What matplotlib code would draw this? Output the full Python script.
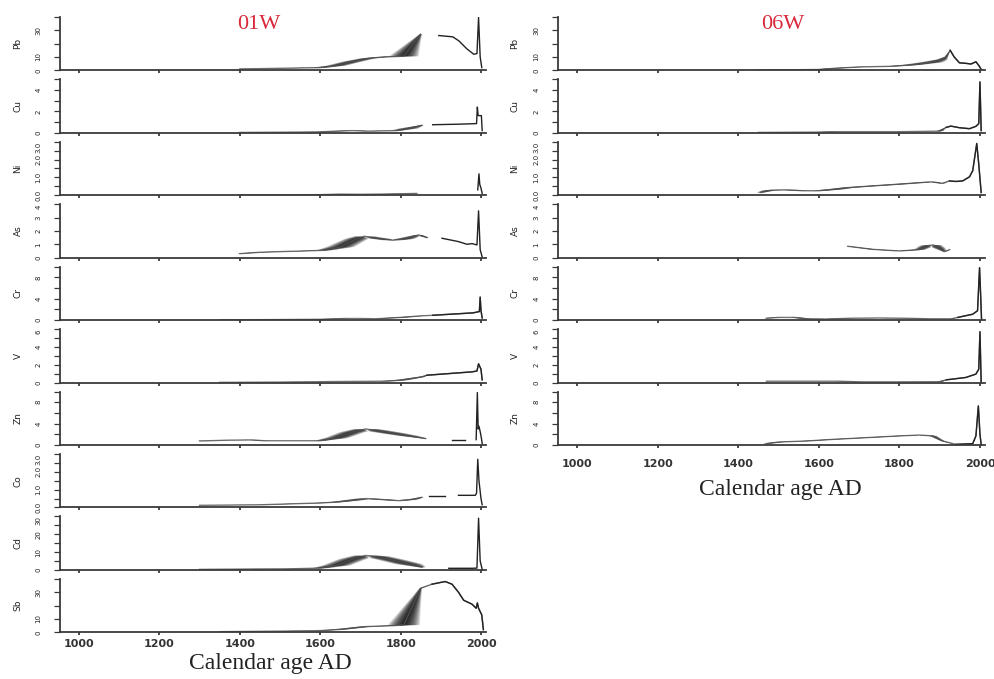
import numpy as np
import matplotlib
matplotlib.use("Agg")
import matplotlib.pyplot as plt

nan = np.nan

# ---- core 01W : calendar year, concentration, age spread (years) ----
pb01_yr = [1400, 1500, 1600, 1640, 1680, 1720, 1760, 1808, 1850, 1870, 1895, 1930, 1945, 1965, 1982, 1990, 1994, 1998, 2002]
pb01_val = [1.0, 1.5, 2.0, 3.5, 6.5, 9.0, 10.0, 10.5, 27.0, nan, 26.0, 25.0, 22.0, 16.0, 12.0, 12.5, 39.5, 10.0, 2.0]
pb01_err = [15, 15, 20, 25, 25, 20, 15, 37, 3, 0, 0, 0, 0, 0, 0, 0, 0, 0, 0]

cu01_yr = [1400, 1500, 1600, 1640, 1680, 1720, 1790, 1820, 1853, 1866, 1880, 1945, 1986, 1989, 1991, 1993, 2001, 2003]
cu01_val = [0.03, 0.05, 0.08, 0.15, 0.2, 0.15, 0.2, 0.4, 0.7, nan, 0.75, 0.8, 0.85, 0.85, 2.4, 1.6, 1.6, 0.2]
cu01_err = [10, 10, 15, 20, 20, 15, 15, 25, 5, 0, 0, 0, 0, 0, 0, 0, 0, 0]

ni01_yr = [1400, 1600, 1650, 1700, 1780, 1840, 1900, 1992, 1995, 1997, 2000, 2003]
ni01_val = [0.02, 0.03, 0.06, 0.05, 0.07, 0.1, nan, 0.3, 1.2, 0.6, 0.4, 0.1]
ni01_err = [10, 10, 20, 20, 20, 15, 0, 0, 0, 0, 0, 0]

as01_yr = [1400, 1450, 1500, 1560, 1610, 1650, 1690, 1710, 1740, 1780, 1810, 1845, 1866, 1885, 1903, 1944, 1965, 1978, 1990, 1994, 1998, 2003]
as01_val = [0.3, 0.4, 0.45, 0.5, 0.55, 0.8, 1.4, 1.6, 1.45, 1.3, 1.4, 1.7, 1.5, nan, 1.45, 1.2, 1.0, 1.05, 0.95, 3.5, 0.6, 0.05]
as01_err = [10, 15, 15, 15, 20, 35, 30, 25, 25, 25, 25, 10, 5, 0, 0, 0, 0, 0, 0, 0, 0, 0]

cr01_yr = [1350, 1500, 1600, 1660, 1700, 1740, 1800, 1853, 1880, 1980, 1990, 1996, 1998, 2000, 2003]
cr01_val = [0.05, 0.1, 0.15, 0.3, 0.3, 0.25, 0.5, 0.8, 0.9, 1.35, 1.5, 1.6, 4.3, 1.8, 0.4]
cr01_err = [10, 10, 15, 20, 20, 15, 20, 5, 0, 0, 0, 0, 0, 0, 0]

v01_yr = [1350, 1500, 1650, 1760, 1800, 1853, 1865, 1978, 1990, 1994, 2000, 2003]
v01_val = [0.02, 0.05, 0.12, 0.15, 0.26, 0.64, 0.82, 1.2, 1.3, 2.1, 1.5, 0.3]
v01_err = [10, 10, 15, 20, 20, 10, 0, 0, 0, 0, 0, 0]

zn01_yr = [1300, 1370, 1430, 1460, 1600, 1640, 1680, 1713, 1740, 1780, 1820, 1862, 1900, 1928, 1961, 1975, 1988, 1991, 1993, 1995, 1998, 2001, 2003]
zn01_val = [0.75, 0.9, 0.95, 0.8, 0.8, 1.3, 2.4, 3.0, 2.7, 2.2, 1.7, 1.2, nan, 0.9, 0.9, nan, 1.0, 9.8, 3.0, 3.5, 2.5, 1.3, 0.3]
zn01_err = [10, 15, 15, 15, 15, 30, 32, 30, 32, 32, 25, 5, 0, 0, 0, 0, 0, 0, 0, 0, 0, 0, 0]

co01_yr = [1300, 1450, 1600, 1640, 1680, 1713, 1750, 1796, 1830, 1853, 1862, 1870, 1911, 1928, 1944, 1986, 1989, 1992, 1995, 2000, 2003]
co01_val = [0.12, 0.15, 0.25, 0.3, 0.4, 0.5, 0.45, 0.38, 0.45, 0.57, nan, 0.63, 0.63, nan, 0.68, 0.68, 0.8, 2.7, 1.5, 0.5, 0.15]
co01_err = [10, 15, 15, 20, 25, 25, 20, 20, 15, 5, 0, 0, 0, 0, 0, 0, 0, 0, 0, 0, 0]

cd01_yr = [1300, 1430, 1520, 1600, 1640, 1680, 1713, 1740, 1780, 1820, 1853, 1890, 1920, 1978, 1990, 1994, 1998, 2003]
cd01_val = [0.3, 0.5, 0.6, 1.0, 2.5, 6.0, 8.1, 7.5, 5.5, 3.3, 1.5, nan, 0.9, 0.9, 1.0, 29.0, 5.0, 0.3]
cd01_err = [10, 15, 15, 20, 35, 35, 30, 35, 35, 35, 10, 0, 0, 0, 0, 0, 0, 0]

sb01_yr = [1350, 1500, 1600, 1650, 1713, 1780, 1808, 1850, 1878, 1911, 1928, 1944, 1957, 1978, 1988, 1991, 1994, 2002, 2006]
sb01_val = [0.5, 0.9, 1.3, 2.2, 4.3, 5.0, 5.5, 33.0, 36.0, 38.0, 36.0, 30.0, 24.0, 21.0, 18.0, 22.0, 18.0, 13.0, 2.0]
sb01_err = [10, 15, 15, 20, 20, 20, 40, 3, 0, 0, 0, 0, 0, 0, 0, 0, 0, 0, 0]

# ---- core 06W ----
pb06_yr = [1450, 1600, 1640, 1700, 1780, 1830, 1880, 1905, 1916, 1926, 1936, 1949, 1965, 1978, 1990, 1998, 2003]
pb06_val = [0.2, 0.6, 1.5, 2.5, 3.0, 4.0, 6.0, 8.0, 10.0, 15.0, 10.0, 5.6, 5.2, 4.7, 6.4, 3.2, 0.7]
pb06_err = [10, 15, 20, 15, 15, 25, 30, 15, 5, 0, 0, 0, 0, 0, 0, 0, 0]

cu06_yr = [1450, 1600, 1640, 1700, 1800, 1900, 1916, 1928, 1949, 1974, 1990, 1997, 2000, 2003]
cu06_val = [0.03, 0.06, 0.1, 0.1, 0.1, 0.15, 0.5, 0.62, 0.47, 0.38, 0.6, 0.85, 4.75, 0.2]
cu06_err = [10, 15, 15, 15, 15, 10, 0, 0, 0, 0, 0, 0, 0, 0]

ni06_yr = [1455, 1480, 1520, 1560, 1600, 1640, 1670, 1720, 1800, 1880, 1907, 1924, 1940, 1957, 1974, 1982, 1992, 1997, 2003]
ni06_val = [0.15, 0.28, 0.3, 0.25, 0.25, 0.33, 0.42, 0.5, 0.62, 0.75, 0.66, 0.8, 0.77, 0.8, 1.03, 1.37, 2.9, 1.74, 0.15]
ni06_err = [10, 20, 25, 25, 20, 25, 20, 20, 20, 15, 5, 0, 0, 0, 0, 0, 0, 0, 0]

as06_yr = [1672, 1734, 1800, 1850, 1870, 1885, 1900, 1912, 1925]
as06_val = [0.85, 0.62, 0.5, 0.6, 0.9, 0.95, 0.7, 0.45, 0.6]
as06_err = [5, 10, 15, 15, 20, 20, 15, 5, 0]

cr06_yr = [1470, 1500, 1540, 1570, 1620, 1680, 1750, 1810, 1870, 1930, 1945, 1982, 1994, 1999, 2001, 2004]
cr06_val = [0.35, 0.5, 0.5, 0.25, 0.2, 0.35, 0.4, 0.35, 0.25, 0.25, 0.5, 1.1, 1.75, 9.8, 6.0, 0.0]
cr06_err = [10, 15, 15, 15, 15, 20, 20, 20, 15, 5, 0, 0, 0, 0, 0, 0]

v06_yr = [1470, 1550, 1650, 1700, 1800, 1900, 1916, 1965, 1990, 1997, 2000, 2003]
v06_val = [0.15, 0.15, 0.15, 0.08, 0.08, 0.1, 0.3, 0.57, 0.95, 1.5, 5.7, 0.0]
v06_err = [15, 15, 15, 15, 15, 10, 0, 0, 0, 0, 0, 0]

zn06_yr = [1469, 1502, 1569, 1635, 1717, 1800, 1850, 1883, 1907, 1940, 1982, 1990, 1996, 2000, 2003]
zn06_val = [0.25, 0.56, 0.75, 1.05, 1.37, 1.7, 1.86, 1.7, 0.75, 0.12, 0.25, 1.7, 7.3, 2.0, 0.1]
zn06_err = [10, 15, 15, 15, 15, 15, 15, 10, 5, 0, 0, 0, 0, 0, 0]

# axis settings per element: (ymax, tick step, labelled ticks)
elements = ["Pb", "Cu", "Ni", "As", "Cr", "V", "Zn", "Co", "Cd", "Sb"]
ymax = [40, 5, 3, 4, 10, 6, 10, 3, 30, 40]
ystep = [10, 1, 0.5, 1, 2, 1, 2, 0.5, 5, 10]
ylabels = [
    {0: "0", 10: "10", 30: "30"},
    {0: "0", 2: "2", 4: "4"},
    {0: "0.0", 1: "1.0", 2: "2.0", 3: "3.0"},
    {0: "0", 1: "1", 2: "2", 3: "3", 4: "4"},
    {0: "0", 4: "4", 8: "8"},
    {0: "0", 2: "2", 4: "4", 6: "6"},
    {0: "0", 4: "4", 8: "8"},
    {0: "0.0", 1: "1.0", 2: "2.0", 3: "3.0"},
    {0: "0", 10: "10", 20: "20", 30: "30"},
    {0: "0", 10: "10", 30: "30"},
]
xticks = [1000, 1200, 1400, 1600, 1800, 2000]

core01 = [
    (pb01_yr, pb01_val, pb01_err), (cu01_yr, cu01_val, cu01_err),
    (ni01_yr, ni01_val, ni01_err), (as01_yr, as01_val, as01_err),
    (cr01_yr, cr01_val, cr01_err), (v01_yr, v01_val, v01_err),
    (zn01_yr, zn01_val, zn01_err), (co01_yr, co01_val, co01_err),
    (cd01_yr, cd01_val, cd01_err), (sb01_yr, sb01_val, sb01_err),
]
core06 = [
    (pb06_yr, pb06_val, pb06_err), (cu06_yr, cu06_val, cu06_err),
    (ni06_yr, ni06_val, ni06_err), (as06_yr, as06_val, as06_err),
    (cr06_yr, cr06_val, cr06_err), (v06_yr, v06_val, v06_err),
    (zn06_yr, zn06_val, zn06_err),
]

W, H = 995, 679
fig = plt.figure(figsize=(W / 100, H / 100), dpi=100)
fig.patch.set_facecolor("white")


def smear(ax, yr, val, err):
    # age uncertainty: nested translucent bands between curve shifted by -t*err and +t*err
    yr = np.asarray(yr, float)
    val = np.asarray(val, float)
    err = np.asarray(err, float)
    idx = np.flatnonzero(~np.isnan(val))
    runs = np.split(idx, np.flatnonzero(np.diff(idx) > 1) + 1)
    levels = np.linspace(1 / 12, 1, 12)
    for r in runs:
        x, y, e = yr[r], val[r], err[r]
        if e.max() > 0:
            for t in levels:
                xs = np.concatenate([x - t * e, (x + t * e)[::-1]])
                ys = np.concatenate([y, y[::-1]])
                ax.fill(xs, ys, color="black", alpha=0.14, lw=0)
            ax.plot(x, y, color="#555555", lw=1.0, alpha=0.8)
            ax.plot(x, np.where(e == 0, y, nan), color="#222222", lw=1.0)
        else:
            ax.plot(x, y, color="#222222", lw=1.0)


def draw_core(series, x0, x1, title, title_x, xlab_x, xlab_y, lab_pad, elem_x):
    n = len(series)
    for i, (yr, val, err) in enumerate(series):
        bottom = 70.3 + 62.45 * i
        ax = fig.add_axes([x0 / W, 1 - bottom / H, (x1 - x0) / W, 53.5 / H])
        smear(ax, yr, val, err)
        ax.set_xlim(952.7, 2012.5)
        ax.set_ylim(0, ymax[i])
        for s in ["top", "right"]:
            ax.spines[s].set_visible(False)
        for s in ["left", "bottom"]:
            ax.spines[s].set_color("#3a3a3a")
            ax.spines[s].set_linewidth(1.3)
        ax.set_xticks(xticks)
        yt = np.arange(0, ymax[i] + ystep[i] / 2, ystep[i])
        ax.set_yticks(yt)
        labs = ax.set_yticklabels(
            [ylabels[i].get(v, "") if float(v).is_integer() else "" for v in yt],
            rotation=90, va="center", fontsize=5, color="#222222")
        labs[-1].set_va("top")
        ax.tick_params(axis="y", direction="out", length=4.5, width=0.9, color="#3a3a3a", pad=9)
        ax.tick_params(axis="x", direction="out", length=2.4, width=1.3, color="#3a3a3a")
        if i == n - 1:
            ax.set_xticklabels([str(v) for v in xticks], fontsize=8, fontweight="bold", color="#333333")
            ax.tick_params(axis="x", pad=lab_pad)
        else:
            ax.set_xticklabels([])
        fig.text(elem_x / W, 1 - (bottom - 26.75) / H, elements[i], rotation=90,
                 ha="center", va="center", fontsize=6.5, color="#222222")
    fig.text(title_x / W, 1 - 24.5 / H, title, ha="center", va="center",
             fontsize=16, color="#d8283a", family="Liberation Serif")
    fig.text(xlab_x / W, 1 - xlab_y / H, "Calendar age AD", ha="center", va="center",
             fontsize=17, color="#222222", family="Liberation Serif")


draw_core(core01, 60, 486, "01W", 259, 270, 663, 2.5, 18)
draw_core(core06, 558, 985, "06W", 783, 780, 490, 7.5, 515)

fig.savefig("out.png", dpi=100, facecolor="white")
